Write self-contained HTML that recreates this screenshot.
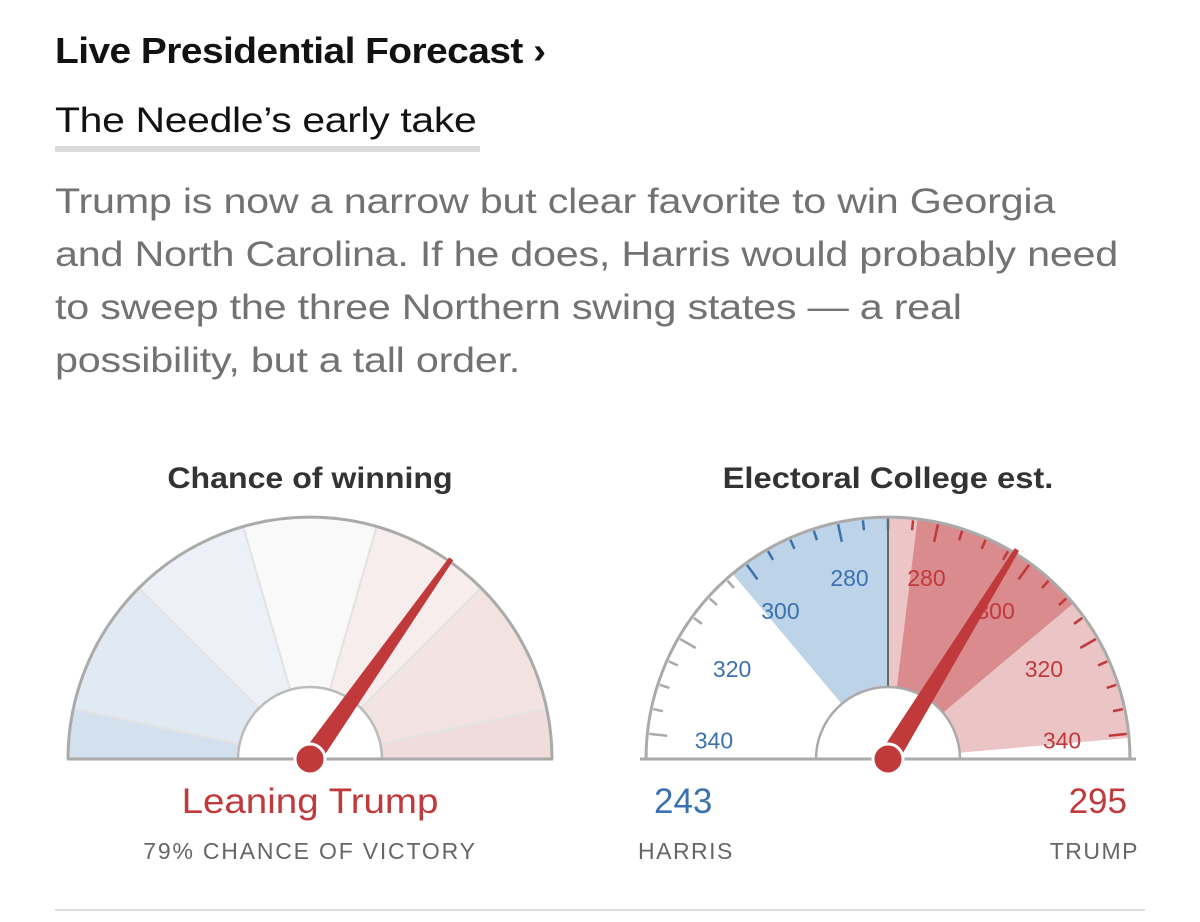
<!DOCTYPE html>
<html><head><meta charset="utf-8"><style>
body{margin:0;background:#fff;width:1200px;height:922px;overflow:hidden;font-family:"Liberation Sans",sans-serif;position:relative}
.a{position:absolute;white-space:nowrap}
.sx{transform-origin:0 0}
.sc{transform-origin:50% 0}
</style></head><body>
<div class="a sx" style="left:55px;top:30px;font-size:36px;font-weight:bold;color:#121212;letter-spacing:-0.5px;transform:scaleX(1.08)">Live Presidential Forecast ›</div>
<div class="a sx" style="left:55px;top:101px;font-size:35px;color:#121212;letter-spacing:-0.3px;transform:scaleX(1.17)">The Needle’s early take</div>
<div class="a" style="left:55px;top:146px;width:425px;height:6px;background:#dcdcdc"></div>
<div class="a sx" style="left:55px;top:175px;font-size:35px;line-height:53px;color:#727272;letter-spacing:-0.2px;transform:scaleX(1.18)">Trump is now a narrow but clear favorite to win Georgia<br>and North Carolina. If he does, Harris would probably need<br>to sweep the three Northern swing states — a real<br>possibility, but a tall order.</div>
<div class="a sc" style="left:110px;width:400px;text-align:center;top:462px;font-size:30px;font-weight:bold;color:#333;transform:scaleX(1.07)">Chance of winning</div>
<div class="a sc" style="left:688px;width:400px;text-align:center;top:462px;font-size:30px;font-weight:bold;color:#333;transform:scaleX(1.09)">Electoral College est.</div>
<svg class="a" style="left:0;top:0" width="1200" height="922" id="s"></svg>
<div class="a sc" style="left:110px;width:400px;text-align:center;top:782px;font-size:35px;color:#c0393b;transform:scaleX(1.1)">Leaning Trump</div>
<div class="a" style="left:110px;width:400px;text-align:center;top:838px;font-size:23px;color:#666;letter-spacing:1.8px">79% CHANCE OF VICTORY</div>
<div class="a" style="left:654px;top:782px;font-size:35px;color:#3a72b0">243</div>
<div class="a" style="left:638px;top:838px;font-size:23px;color:#666;letter-spacing:1.5px">HARRIS</div>
<div class="a" style="right:73px;top:782px;font-size:35px;color:#c0393b">295</div>
<div class="a" style="right:61px;top:838px;font-size:23px;color:#666;letter-spacing:1.5px">TRUMP</div>
<div class="a" style="left:55px;top:909px;width:1090px;height:2px;background:#ddd"></div>
<script>
var s=document.getElementById('s'),h='';
function P(cx,cy,r,a){a=a*Math.PI/180;return [cx+r*Math.cos(a),cy-r*Math.sin(a)];}
function sec(cx,cy,r0,r1,a0,a1,f,st){var p1=P(cx,cy,r1,a0),p2=P(cx,cy,r1,a1),p3=P(cx,cy,r0,a1),p4=P(cx,cy,r0,a0);
h+='<path d="M'+p1+' A'+r1+','+r1+' 0 0 0 '+p2+' L'+p3+' A'+r0+','+r0+' 0 0 1 '+p4+'Z" fill="'+f+'" stroke="'+(st||'none')+'" stroke-width="2"/>';}
function needle(cx,cy,len,a){var t=P(cx,cy,len,a),b1=P(cx,cy,10,a+90),b2=P(cx,cy,10,a-90),t1=P(t[0],t[1],2.5,a+90),t2=P(t[0],t[1],2.5,a-90);
h+='<path d="M'+b1+' L'+t1+' L'+t2+' L'+b2+'Z" fill="#c0393b"/><circle cx="'+cx+'" cy="'+cy+'" r="15" fill="#c0393b" stroke="#fff" stroke-width="3"/>';}
var L=[310,759],bands=[[168,180,'#d3e1ef'],[135,168,'#e1e9f3'],[106,135,'#edf1f7'],[74,106,'#f9f9f9'],[45,74,'#f8eded'],[12,45,'#f3e2e2'],[0,12,'#f0dcdc']];
bands.forEach(function(b){sec(L[0],L[1],72,242,b[0],b[1],b[2],'#e3e3e3');});
h+='<path d="M68,759 A242,242 0 0 1 552,759" fill="none" stroke="#aaa" stroke-width="3"/><path d="M238,759 A72,72 0 0 1 382,759" fill="none" stroke="#bbb" stroke-width="2.5"/><line x1="67" y1="759" x2="553" y2="759" stroke="#aaa" stroke-width="3"/>';
needle(L[0],L[1],245,54.8);
var R=[888,759];
sec(R[0],R[1],72,242,90,130,'#bdd3e8');sec(R[0],R[1],72,242,83,90,'#ecc6c7');sec(R[0],R[1],72,242,40,83,'#d98b8d');sec(R[0],R[1],72,242,5,40,'#ebc4c5');
for(var ev=270;ev<=345;ev+=5){var a=90+(ev-270)*1.2;var lg=(ev%20==0);var c=a<=130?'#3a72b0':'#aaa';var o=P(R[0],R[1],240,a),i=P(R[0],R[1],lg?222:230,a);
h+='<line x1="'+o[0]+'" y1="'+o[1]+'" x2="'+i[0]+'" y2="'+i[1]+'" stroke="'+c+'" stroke-width="2.5"/>';
var a2=90-(ev-270)*1.2;var c2=a2>=5?'#c0393b':'#aaa';o=P(R[0],R[1],240,a2);i=P(R[0],R[1],lg?222:230,a2);
if(ev>270)h+='<line x1="'+o[0]+'" y1="'+o[1]+'" x2="'+i[0]+'" y2="'+i[1]+'" stroke="'+c2+'" stroke-width="2.5"/>';
if(ev%20==0){var rr=(ev==340?175:ev==320?180:ev==300?183:185);var q=P(R[0],R[1],rr,a),q2=P(R[0],R[1],rr,a2);
h+='<text x="'+q[0]+'" y="'+(q[1]+8)+'" text-anchor="middle" font-size="23" fill="#3a72b0" font-family="Liberation Sans">'+ev+'</text>';
h+='<text x="'+q2[0]+'" y="'+(q2[1]+8)+'" text-anchor="middle" font-size="23" fill="#c0393b" font-family="Liberation Sans">'+ev+'</text>';}}
h+='<line x1="888" y1="517" x2="888" y2="687" stroke="#666" stroke-width="2"/>';
h+='<path d="M646,759 A242,242 0 0 1 1130,759" fill="none" stroke="#aaa" stroke-width="3"/><path d="M816,759 A72,72 0 0 1 960,759" fill="#fff" stroke="#aaa" stroke-width="2.5"/><line x1="640" y1="759" x2="1136" y2="759" stroke="#aaa" stroke-width="3"/>';
needle(R[0],R[1],246,58.4);
s.innerHTML=h;
</script>
</body></html>
